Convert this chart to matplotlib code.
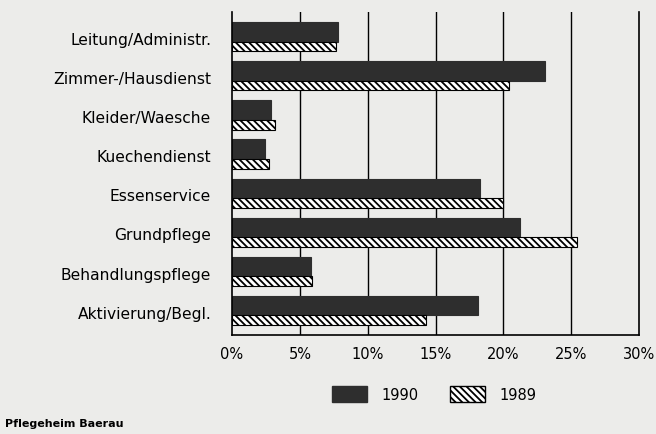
import matplotlib
matplotlib.use("Agg")
import matplotlib.pyplot as plt
from matplotlib.patches import Patch
import numpy as np

plt.rcParams['font.family'] = ['DejaVu Sans']
plt.rcParams['hatch.linewidth'] = 1.3

# Anteile der Stellen je Bereich (in %)
categories = ["Leitung/Administr.", "Zimmer-/Hausdienst", "Kleider/Waesche",
              "Kuechendienst", "Essenservice", "Grundpflege",
              "Behandlungspflege", "Aktivierung/Begl."]
values_1990 = [7.8, 23.1, 2.9, 2.4, 18.3, 21.2, 5.8, 18.1]
values_1989 = [7.7, 20.4, 3.2, 2.7, 20.0, 25.4, 5.9, 14.3]
xticks = [0, 5, 10, 15, 20, 25, 30]

bg = "#ececea"
dark = "#2e2e2e"

fig = plt.figure(figsize=(6.56, 4.35), dpi=100, facecolor=bg)
ax = fig.add_axes([0.3537, 0.2276, 0.6204, 0.7424])
ax.set_facecolor(bg)

pos = np.arange(len(categories))
# vertikale Gitterlinien hinter den Balken
for x in xticks[1:-1]:
    ax.axvline(x, color="black", lw=1.0, zorder=1)

ax.barh(pos - 0.125, values_1990, height=0.5, color=dark, edgecolor=dark,
        lw=0.8, zorder=2)
ax.barh(pos + 0.25, values_1989, height=0.25, color="white", edgecolor="black",
        hatch="\\\\\\\\\\", lw=0.8, zorder=3)

ax.set_xlim(0, 30)
ax.set_ylim(7.625, -0.63)
ax.set_xticks(xticks)
ax.set_xticklabels([f"{t}%" for t in xticks], fontsize=10.5)
ax.set_yticks(pos + 0.03)
ax.set_yticklabels(categories, fontsize=11.2)
ax.tick_params(length=0, pad=8)
ax.tick_params(axis="y", pad=15)
ax.spines["top"].set_visible(False)
for s in ["left", "right", "bottom"]:
    ax.spines[s].set_linewidth(1.2)

handles = [Patch(facecolor=dark, edgecolor=dark),
           Patch(facecolor="white", edgecolor="black", hatch="\\\\\\\\\\")]
fig.legend(handles, ["1990", "1989"], loc="center", bbox_to_anchor=(0.662, 0.092),
           ncol=2, frameon=False, fontsize=10.5, handlelength=2.4, handleheight=1.3,
           columnspacing=2.1, handletextpad=1.0)

fig.text(0.008, 0.025, "Pflegeheim Baerau", fontsize=8, fontweight="bold",
         va="center", ha="left")

fig.savefig("out.png", dpi=100, facecolor=bg)
